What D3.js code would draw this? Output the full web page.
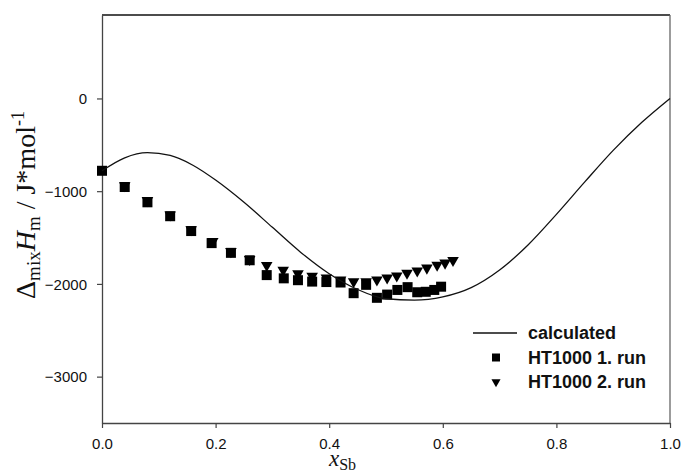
<!DOCTYPE html>
<html>
<head>
<meta charset="utf-8">
<script src="https://cdn.jsdelivr.net/npm/d3@7"></script>
<style>
  body { margin: 0; background: #fff; overflow: hidden; }
  .tick text { font-family: "Liberation Sans", Arial, sans-serif; font-size: 15px; fill: #111; }
</style>
</head>
<body>
<div id="chart"></div>
<script>
// calculated curve
const calcX = [0, 0.04, 0.08, 0.12, 0.16, 0.2, 0.25, 0.3, 0.35, 0.4, 0.45, 0.5, 0.55, 0.6, 0.65, 0.7, 0.75, 0.8, 0.85, 0.9, 0.95, 1.0];
const calcY = [-780, -640, -585, -615, -720, -880, -1120, -1390, -1660, -1890, -2060, -2160, -2175, -2140, -2040, -1850, -1580, -1250, -900, -560, -260, 0];

// HT1000 1. run (squares)
const run1X = [0, 0.04, 0.08, 0.12, 0.157, 0.193, 0.227, 0.26, 0.29, 0.32, 0.345, 0.37, 0.395, 0.42, 0.443, 0.465, 0.484, 0.502, 0.52, 0.538, 0.555, 0.57, 0.585, 0.597];
const run1Y = [-780, -955, -1120, -1270, -1430, -1560, -1665, -1745, -1905, -1940, -1960, -1975, -1980, -1985, -2100, -2010, -2150, -2115, -2065, -2035, -2090, -2085, -2065, -2030];

// HT1000 2. run (triangles)
const run2X = [0.04, 0.08, 0.12, 0.157, 0.195, 0.227, 0.26, 0.29, 0.319, 0.345, 0.37, 0.395, 0.42, 0.443, 0.465, 0.484, 0.502, 0.519, 0.537, 0.555, 0.572, 0.59, 0.604, 0.618];
const run2Y = [-940, -1100, -1255, -1415, -1540, -1650, -1735, -1800, -1850, -1890, -1915, -1935, -1955, -1975, -1975, -1957, -1935, -1914, -1882, -1860, -1828, -1796, -1774, -1745];

const xTicks = [0, 0.2, 0.4, 0.6, 0.8, 1.0];
const yTicks = [0, -1000, -2000, -3000];
const legendLabels = ['calculated', 'HT1000 1. run', 'HT1000 2. run'];

const config = {
  width: 681,
  height: 473,
  margin: { top: 15, right: 11, bottom: 50, left: 102 }
};
const innerW = config.width - config.margin.left - config.margin.right;
const innerH = config.height - config.margin.top - config.margin.bottom;

const svg = d3.select('#chart').append('svg')
  .attr('width', config.width)
  .attr('height', config.height);
const g = svg.append('g')
  .attr('transform', `translate(${config.margin.left},${config.margin.top})`);

const xScale = d3.scaleLinear().domain([0, 1]).range([0, innerW]);
const yScale = d3.scaleLinear().domain([-3500, 900]).range([innerH, 0]);

// frame (top + right)
g.append('line').attr('x1', 0).attr('x2', innerW).attr('y1', 0).attr('y2', 0)
  .attr('stroke', '#111').attr('stroke-width', 1.3);
g.append('line').attr('x1', innerW).attr('x2', innerW).attr('y1', 0).attr('y2', innerH)
  .attr('stroke', '#666').attr('stroke-width', 1.3);

// axes
const xAxis = g.append('g').attr('transform', `translate(0,${innerH})`)
  .call(d3.axisBottom(xScale).tickValues(xTicks).tickFormat(d3.format('.1f')).tickSize(5).tickSizeOuter(0).tickPadding(10));
const yAxis = g.append('g')
  .call(d3.axisLeft(yScale).tickValues(yTicks).tickFormat(d3.format('d')).tickSize(5).tickSizeOuter(0).tickPadding(10));
[xAxis, yAxis].forEach(a => {
  a.selectAll('.domain').attr('stroke', '#444').attr('stroke-width', 1.3);
  a.selectAll('.tick line').attr('stroke', '#444').attr('stroke-width', 1.2);
});
yAxis.selectAll('.tick text').attr('dy', '0.35em');

// run 2 triangles (pointing down)
const tri = d3.symbol().type(d3.symbolTriangle).size(58);
g.append('g').selectAll('path')
  .data(run2X.map((x, i) => [x, run2Y[i]]))
  .join('path')
  .attr('d', tri)
  .attr('transform', d => `translate(${xScale(d[0])},${yScale(d[1])}) rotate(180)`)
  .attr('fill', '#000');

// run 1 squares
const sq = 10;
g.append('g').selectAll('rect')
  .data(run1X.map((x, i) => [x, run1Y[i]]))
  .join('rect')
  .attr('x', d => xScale(d[0]) - sq / 2)
  .attr('y', d => yScale(d[1]) - sq / 2)
  .attr('width', sq)
  .attr('height', sq)
  .attr('fill', '#000');

// calculated line
const line = d3.line()
  .x(d => xScale(d[0]))
  .y(d => yScale(d[1]))
  .curve(d3.curveMonotoneX);
g.append('path')
  .datum(calcX.map((x, i) => [x, calcY[i]]))
  .attr('d', line)
  .attr('fill', 'none')
  .attr('stroke', '#111')
  .attr('stroke-width', 1.3);

// legend
const legend = g.append('g').attr('transform', `translate(${473 - config.margin.left},${333 - config.margin.top})`);
const rowH = 24.5;
legend.append('line').attr('x1', 0).attr('x2', 44).attr('y1', 0).attr('y2', 0)
  .attr('stroke', '#111').attr('stroke-width', 1.3);
legend.append('rect').attr('x', 23 - 4).attr('y', rowH - 4).attr('width', 8).attr('height', 8).attr('fill', '#000');
legend.append('path').attr('d', d3.symbol().type(d3.symbolTriangle).size(36))
  .attr('transform', `translate(23,${rowH * 2}) rotate(180)`).attr('fill', '#000');
legend.selectAll('text.leg')
  .data(legendLabels)
  .join('text')
  .attr('class', 'leg')
  .attr('x', 55)
  .attr('y', (d, i) => i * rowH)
  .attr('dy', '0.36em')
  .attr('font-family', '"Liberation Sans", Arial, sans-serif')
  .attr('font-weight', 'bold')
  .attr('font-size', 18)
  .attr('fill', '#111')
  .text(d => d);

// x axis title
const xt = svg.append('text')
  .attr('x', 329)
  .attr('y', 466)
  .attr('font-family', '"Liberation Serif", "Times New Roman", serif')
  .attr('font-size', 23)
  .attr('fill', '#111');
xt.append('tspan').attr('font-style', 'italic').text('x');
xt.append('tspan').attr('font-size', 16).attr('dy', 4).text('Sb');

// y axis title
const yt = svg.append('text')
  .attr('transform', `translate(35,205) rotate(-90)`)
  .attr('text-anchor', 'middle')
  .attr('font-family', '"Liberation Serif", "Times New Roman", serif')
  .attr('font-size', 28)
  .attr('fill', '#111');
yt.append('tspan').text('Δ');
yt.append('tspan').attr('font-size', 19).attr('dy', 5).text('mix');
yt.append('tspan').attr('font-style', 'italic').attr('dy', -5).text('H');
yt.append('tspan').attr('font-size', 19).attr('dy', 5).text('m');
yt.append('tspan').attr('dy', -5).text(' / J*mol');
yt.append('tspan').attr('font-size', 18).attr('dy', -11).text('-1');
</script>
</body>
</html>
